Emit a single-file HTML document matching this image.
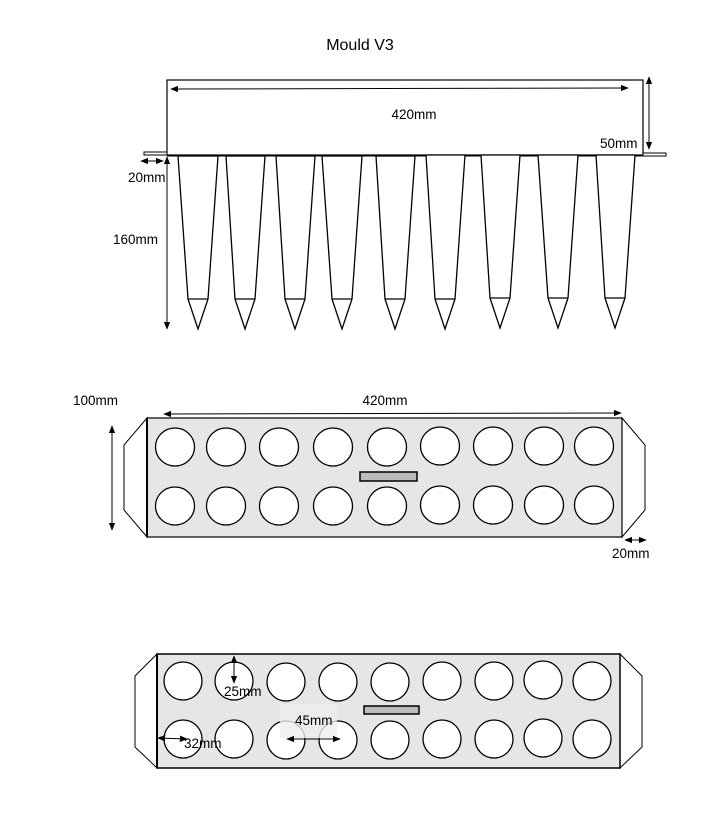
<!DOCTYPE html>
<html><head><style>body{margin:0;background:#fff}svg{display:block}text{font-family:"Liberation Sans",sans-serif;font-size:13.5px;fill:#000}</style></head>
<body>
<svg width="704" height="823" viewBox="0 0 704 823" xmlns="http://www.w3.org/2000/svg">
<defs>
<marker id="a" viewBox="0 0 10 10" refX="9" refY="5" markerWidth="8" markerHeight="8" orient="auto-start-reverse" markerUnits="userSpaceOnUse"><path d="M0,1 L10,5 L0,9 z" fill="#000"/></marker>
</defs>
<text x="360" y="50" text-anchor="middle" style="font-size:16px">Mould V3</text>
<!-- top view -->
<rect x="167" y="80" width="476" height="75" fill="#fff" stroke="#000" stroke-width="1.2"/>
<rect x="144" y="152" width="23" height="3" fill="#fff" stroke="#000"/>
<rect x="643" y="153" width="23" height="3" fill="#fff" stroke="#000"/>
<line x1="167" y1="155.5" x2="643" y2="155.5" stroke="#000" stroke-width="2"/>
<line x1="171" y1="89" x2="628" y2="88" stroke="#000" marker-start="url(#a)" marker-end="url(#a)"/>
<line x1="649" y1="77" x2="649" y2="149" stroke="#000" marker-start="url(#a)" marker-end="url(#a)"/>
<line x1="141" y1="161" x2="163" y2="161" stroke="#000" marker-start="url(#a)" marker-end="url(#a)"/>
<line x1="167" y1="157" x2="167" y2="329" stroke="#000" marker-start="url(#a)" marker-end="url(#a)"/>
<text x="414" y="119" text-anchor="middle">420mm</text>
<text x="600" y="148">50mm</text>
<text x="128" y="182">20mm</text>
<text x="113" y="244">160mm</text>
<g fill="#fff" stroke="#000" stroke-width="1.3">
<path d="M178,156 L218,156 L208,299 L188,299 Z M188,299 L198,329 L208,299"/>
<path d="M226,156 L265,156 L255,299 L235,299 Z M235,299 L245,329 L255,299"/>
<path d="M276,156 L315,156 L305,299 L285,299 Z M285,299 L295,329 L305,299"/>
<path d="M322,156 L362,156 L352,299 L332,299 Z M332,299 L342,329 L352,299"/>
<path d="M376,156 L415,156 L405,299 L385,299 Z M385,299 L395,329 L405,299"/>
<path d="M426,155 L465,155 L455,299 L435,299 Z M435,299 L445,329 L455,299"/>
<path d="M481,155 L520,155 L510,298 L490,298 Z M490,298 L500,328 L510,298"/>
<path d="M538,155 L578,155 L568,298 L548,298 Z M548,298 L558,328 L568,298"/>
<path d="M596,155 L635,155 L625,298 L605,298 Z M605,298 L615,328 L625,298"/>
</g>
<!-- middle view -->
<path d="M147,418 L124,445 L124,510 L147,537 Z" fill="#fff" stroke="#000"/>
<path d="M622,418 L645,445 L645,510 L622,537 Z" fill="#fff" stroke="#000"/>
<rect x="147" y="418" width="475" height="119" fill="#e6e6e6" stroke="#000" stroke-width="1.2"/>
<line x1="147" y1="418" x2="147" y2="537" stroke="#000" stroke-width="2"/>
<g fill="#fff" stroke="#000" stroke-width="1.3">
<ellipse cx="175" cy="447" rx="19.5" ry="19"/><ellipse cx="226" cy="447" rx="19.5" ry="19"/><ellipse cx="279" cy="447" rx="19.5" ry="19"/><ellipse cx="333" cy="447" rx="19.5" ry="19"/><ellipse cx="387" cy="447" rx="19.5" ry="19"/><ellipse cx="440" cy="446" rx="19.5" ry="19"/><ellipse cx="493" cy="446" rx="19.5" ry="19"/><ellipse cx="544" cy="446" rx="19.5" ry="19"/><ellipse cx="594" cy="446" rx="19.5" ry="19"/>
<ellipse cx="175" cy="506" rx="19.5" ry="19"/><ellipse cx="226" cy="506" rx="19.5" ry="19"/><ellipse cx="279" cy="506" rx="19.5" ry="19"/><ellipse cx="333" cy="506" rx="19.5" ry="19"/><ellipse cx="387" cy="506" rx="19.5" ry="19"/><ellipse cx="440" cy="505" rx="19.5" ry="19"/><ellipse cx="493" cy="505" rx="19.5" ry="19"/><ellipse cx="544" cy="505" rx="19.5" ry="19"/><ellipse cx="594" cy="505" rx="19.5" ry="19"/>
</g>
<rect x="360" y="472" width="57" height="9" fill="#bbb" stroke="#000" stroke-width="1.5"/>
<line x1="164" y1="414" x2="621" y2="413" stroke="#000" marker-start="url(#a)" marker-end="url(#a)"/>
<line x1="112" y1="426" x2="112" y2="530" stroke="#000" marker-start="url(#a)" marker-end="url(#a)"/>
<line x1="625" y1="540" x2="646" y2="540" stroke="#000" marker-start="url(#a)" marker-end="url(#a)"/>
<text x="73" y="405">100mm</text>
<text x="385" y="405" text-anchor="middle">420mm</text>
<text x="612" y="558">20mm</text>
<!-- bottom view -->
<path d="M157,654 L135,676 L135,747 L157,768 Z" fill="#fff" stroke="#000"/>
<path d="M620,654 L642,676 L642,747 L620,768 Z" fill="#fff" stroke="#000"/>
<rect x="157" y="654" width="463" height="114" fill="#e6e6e6" stroke="#000" stroke-width="1.5"/>
<line x1="157" y1="654" x2="157" y2="768" stroke="#000" stroke-width="2"/>
<g fill="#fff" stroke="#000" stroke-width="1.3">
<circle cx="183" cy="681" r="19"/><circle cx="234" cy="681" r="19"/><circle cx="286" cy="682" r="19"/><circle cx="338" cy="682" r="19"/><circle cx="390" cy="682" r="19"/><circle cx="442" cy="681" r="19"/><circle cx="494" cy="681" r="19"/><circle cx="543" cy="680" r="19"/><circle cx="592" cy="681" r="19"/>
<circle cx="183" cy="739" r="19"/><circle cx="234" cy="739" r="19"/><circle cx="286" cy="740" r="19"/><circle cx="338" cy="740" r="19"/><circle cx="390" cy="740" r="19"/><circle cx="442" cy="739" r="19"/><circle cx="494" cy="739" r="19"/><circle cx="543" cy="738" r="19"/><circle cx="592" cy="739" r="19"/>
</g>
<rect x="280" y="704" width="57" height="34" fill="#eee" opacity="0.8"/>
<rect x="364" y="706" width="55" height="8" fill="#bbb" stroke="#000" stroke-width="1.5"/>
<line x1="234" y1="656" x2="234" y2="683" stroke="#000" marker-start="url(#a)" marker-end="url(#a)"/>
<line x1="158" y1="738" x2="187" y2="739" stroke="#000" marker-start="url(#a)" marker-end="url(#a)"/>
<line x1="287" y1="739" x2="340" y2="739" stroke="#000" marker-start="url(#a)" marker-end="url(#a)"/>
<text x="224" y="696">25mm</text>
<text x="295" y="725">45mm</text>
<text x="184" y="748">32mm</text>
</svg>
</body></html>
